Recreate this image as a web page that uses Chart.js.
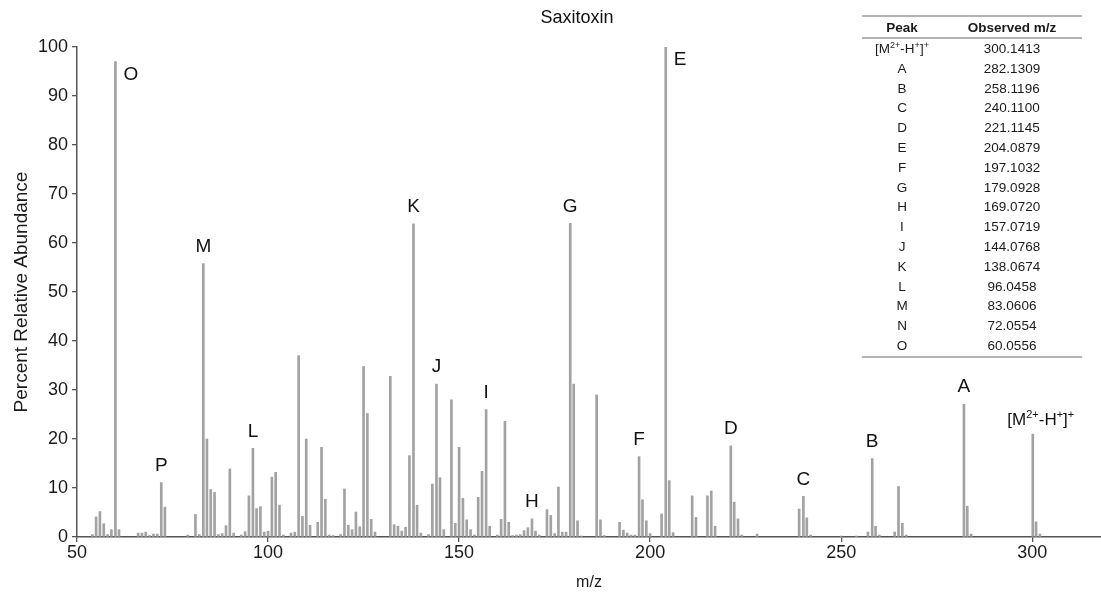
<!DOCTYPE html>
<html>
<head>
<meta charset="utf-8">
<script src="https://cdn.jsdelivr.net/npm/chart.js@4.4.1/dist/chart.umd.min.js"></script>
<style>
  body { margin: 0; background: #fff; }
  #wrap { position: relative; width: 1101px; height: 596px; }
  #peakTable {
    position: absolute; left: 862px; top: 15px; width: 220px;
    border-collapse: collapse; font-family: "Liberation Sans", Arial, sans-serif;
    font-size: 13.5px; color: #1a1a1a;
    border-top: 2px solid #b3b3b3; border-bottom: 2px solid #b3b3b3;
  }
  #peakTable th { font-weight: bold; height: 20px; padding: 0; border-bottom: 2px solid #b3b3b3; }
  #peakTable td { height: 19.8px; padding: 0; text-align: center; line-height: 19.8px; }
  #peakTable .c1 { width: 80px; }
  #peakTable sup { font-size: 9px; vertical-align: 5px; line-height: 0; }
</style>
</head>
<body>
<div id="wrap">
  <canvas id="spectrum" width="1101" height="596"></canvas>
  <table id="peakTable">
    <thead><tr><th class="c1">Peak</th><th>Observed m/z</th></tr></thead>
    <tbody></tbody>
  </table>
</div>
<script>
// MS/MS spectrum of saxitoxin: m/z and percent relative abundance
const mz = [
  54, 55, 56, 57, 58, 59, 60.0556, 61, 66, 67, 68, 69, 70, 71, 72.0554, 73,
  79, 81, 82, 83.0606, 84, 85, 86, 87, 88, 89, 90, 91, 93, 94, 95, 96.0458,
  97, 98, 99, 100, 101, 102, 103, 104, 106, 107, 108, 109, 110, 111, 113, 114,
  115, 116, 117, 119, 120, 121, 122, 123, 124, 125, 126, 127, 128, 132, 133, 134,
  135, 136, 137, 138.0674, 139, 140, 142, 143, 144.0768, 145, 146, 148, 149, 150, 151, 152,
  153, 154, 155, 156, 157.0719, 158, 160, 161, 162, 163, 164, 165, 166, 167, 168, 169.072,
  170, 171, 173, 174, 175, 176, 177, 178, 179.0928, 180, 181, 182, 186, 187, 188, 192,
  193, 194, 195, 196, 197.1032, 198, 199, 200, 203, 204.0879, 205, 206, 211, 212, 215, 216,
  217, 221.1145, 222, 223, 224, 228, 239, 240.11, 241, 242, 250, 254, 257, 258.1196, 259, 260,
  264, 265, 266, 267, 282.1309, 283, 284, 300.1413, 301, 302
];
const abundance = [
  0.5, 4.1, 5.2, 2.7, 0.5, 1.5, 97.0, 1.5, 0.8, 0.8, 1.0, 0.3, 0.6, 0.6, 11.1, 6.1,
  0.4, 4.6, 0.5, 55.8, 20.0, 9.7, 9.1, 0.5, 0.7, 2.3, 13.9, 0.8, 0.4, 1.1, 8.4, 18.1,
  5.8, 6.2, 1.0, 1.2, 12.2, 13.2, 6.5, 0.4, 0.8, 1.0, 37.0, 4.2, 20.0, 2.4, 3.0, 18.3,
  7.7, 0.4, 0.3, 0.5, 9.8, 2.4, 1.5, 5.1, 2.1, 34.8, 25.2, 3.6, 1.0, 32.8, 2.5, 2.2,
  1.2, 2.0, 16.6, 63.9, 6.5, 0.8, 0.5, 10.8, 31.2, 12.1, 1.5, 28.0, 2.8, 18.3, 7.9, 3.5,
  1.5, 0.4, 8.1, 13.4, 26.0, 2.2, 0.4, 3.6, 23.6, 3.0, 0.3, 0.4, 0.5, 1.3, 1.9, 3.7,
  1.2, 0.4, 5.6, 4.4, 0.7, 10.2, 1.0, 1.0, 64.0, 31.2, 3.3, 0.2, 29.0, 3.5, 0.3, 3.0,
  1.4, 0.8, 0.4, 0.4, 16.4, 7.6, 3.3, 0.7, 4.7, 100.0, 11.5, 0.9, 8.4, 4.0, 8.4, 9.4,
  2.2, 18.6, 7.1, 3.7, 0.4, 0.6, 5.7, 8.3, 3.9, 0.4, 0.2, 0.2, 1.0, 16.0, 2.2, 0.4,
  1.0, 10.3, 2.8, 0.4, 27.1, 6.3, 0.6, 21.0, 3.1, 0.6
];

// peaks lettered on the spectrum
const markLetters = ['O', 'P', 'M', 'L', 'K', 'J', 'I', 'H', 'G', 'F', 'E', 'D', 'C', 'B', 'A', '[M²⁺-H⁺]⁺'];
const markMz = [60.0556, 72.0554, 83.0606, 96.0458, 138.0674, 144.0768, 157.0719, 169.072,
  179.0928, 197.1032, 204.0879, 221.1145, 240.11, 258.1196, 282.1309, 300.1413];

// assignment table
const tablePeaks = ['[M²⁺-H⁺]⁺', 'A', 'B', 'C', 'D', 'E', 'F', 'G', 'H', 'I', 'J', 'K', 'L', 'M', 'N', 'O'];
const tableMz = ['300.1413', '282.1309', '258.1196', '240.1100', '221.1145', '204.0879', '197.1032',
  '179.0928', '169.0720', '157.0719', '144.0768', '138.0674', '96.0458', '83.0606', '72.0554', '60.0556'];

const xTicks = [50, 100, 150, 200, 250, 300];
const yTicks = [0, 10, 20, 30, 40, 50, 60, 70, 80, 90, 100];

const FONT = '"Liberation Sans", Arial, sans-serif';
const SUP = { '²': '2', '⁺': '+' };

// split text into normal / superscript runs
function runs(text) {
  const out = [];
  for (const ch of text) {
    const sup = ch in SUP;
    const c = sup ? SUP[ch] : ch;
    if (out.length && out[out.length - 1].sup === sup) out[out.length - 1].t += c;
    else out.push({ t: c, sup: sup });
  }
  return out;
}

// table rows
const tbody = document.querySelector('#peakTable tbody');
tablePeaks.forEach((p, i) => {
  const tr = document.createElement('tr');
  const td1 = document.createElement('td');
  td1.className = 'c1';
  td1.innerHTML = runs(p).map(r => r.sup ? '<sup>' + r.t + '</sup>' : r.t).join('');
  const td2 = document.createElement('td');
  td2.textContent = tableMz[i];
  tr.appendChild(td1);
  tr.appendChild(td2);
  tbody.appendChild(tr);
});

// letters above the peaks + chart title
const peakLabels = {
  id: 'peakLabels',
  afterDatasetsDraw(chart) {
    const { ctx, scales: { x, y } } = chart;
    ctx.save();
    ctx.fillStyle = '#111';
    ctx.textBaseline = 'middle';

    ctx.font = '18px ' + FONT;
    ctx.textAlign = 'center';
    ctx.fillText('Saxitoxin', 577, 18);

    markLetters.forEach((label, i) => {
      const idx = mz.indexOf(markMz[i]);
      const px = x.getPixelForValue(markMz[i]);
      const py = y.getPixelForValue(abundance[idx]);
      if (label === 'O' || label === 'E') {
        ctx.font = '19px ' + FONT;
        ctx.textAlign = 'left';
        ctx.fillText(label, px + 8, py + 13);
      } else if (label.length > 1) {
        // rich label with superscripts
        const parts = runs(label);
        const widths = parts.map(r => {
          ctx.font = (r.sup ? '11px ' : '17px ') + FONT;
          return ctx.measureText(r.t).width;
        });
        const total = widths.reduce((a, b) => a + b, 0);
        let cx = px + 8 - total / 2;
        ctx.textAlign = 'left';
        parts.forEach((r, k) => {
          ctx.font = (r.sup ? '11px ' : '17px ') + FONT;
          ctx.fillText(r.t, cx, py - 14 - (r.sup ? 5 : 0));
          cx += widths[k];
        });
      } else {
        ctx.font = '19px ' + FONT;
        ctx.textAlign = 'center';
        ctx.fillText(label, px, py - 17);
      }
    });
    ctx.restore();
  }
};

new Chart(document.getElementById('spectrum'), {
  type: 'bar',
  data: {
    datasets: [{
      data: mz.map((m, i) => ({ x: m, y: abundance[i] })),
      backgroundColor: '#a2a2a2',
      borderWidth: 0,
      barThickness: 2
    }]
  },
  options: {
    responsive: false,
    animation: false,
    layout: { padding: { top: 47, right: 0, left: 0, bottom: 0 } },
    plugins: {
      legend: { display: false },
      tooltip: { enabled: false },
      title: { display: false }
    },
    scales: {
      x: {
        type: 'linear',
        min: 50,
        max: 318,
        offset: false,
        afterBuildTicks: s => { s.ticks = xTicks.map(v => ({ value: v })); },
        afterFit: s => { s.height = 59; },
        grid: { offset: false, drawOnChartArea: false, tickLength: 5, color: '#555', lineWidth: 1.3 },
        border: { color: '#555', width: 1.5 },
        ticks: { color: '#1a1a1a', font: { family: FONT, size: 18 }, padding: 0, maxRotation: 0 },
        title: { display: true, text: 'm/z', color: '#1a1a1a', font: { family: FONT, size: 16 }, padding: { top: 0, bottom: 4 } }
      },
      y: {
        min: 0,
        max: 100,
        afterBuildTicks: s => { s.ticks = yTicks.map(v => ({ value: v })); },
        afterFit: s => { s.width = 77; },
        grid: { drawOnChartArea: false, tickLength: 5, color: '#555', lineWidth: 1.3 },
        border: { color: '#555', width: 1.5 },
        ticks: { color: '#1a1a1a', font: { family: FONT, size: 18 }, padding: 4 },
        title: { display: true, text: 'Percent Relative Abundance', color: '#1a1a1a', font: { family: FONT, size: 19 }, padding: { top: 10, bottom: 0 } }
      }
    }
  },
  plugins: [peakLabels]
});
</script>
</body>
</html>
